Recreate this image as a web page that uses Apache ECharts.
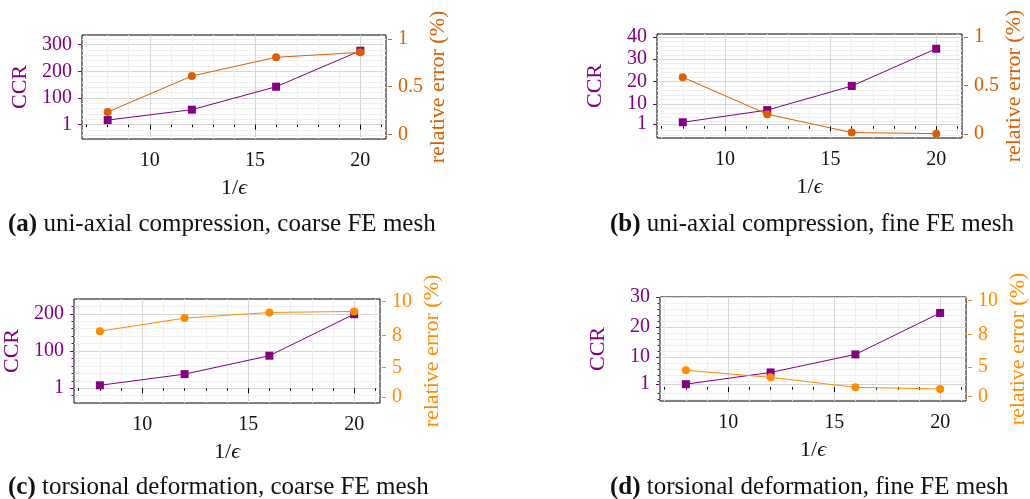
<!DOCTYPE html>
<html><head><meta charset="utf-8">
<script src="https://cdn.jsdelivr.net/npm/echarts@6/dist/echarts.min.js"></script>
<style>html,body{margin:0;padding:0;background:#fff}#c{width:1030px;height:499px}</style>
</head><body><div id="c"></div>
<script>
// ---- data ----
const xVals = [8, 12, 16, 20];
const xMajorTicks = [10, 15, 20];
const xMinorTicks = [7, 8, 9, 11, 12, 13, 14, 16, 17, 18, 19, 21];

const ccrA = [17, 56, 142, 277];
const errA = [0.234, 0.612, 0.808, 0.860];
const ccrB = [1.75, 7.2, 18.0, 34.7];
const errB = [0.585, 0.204, 0.014, 0.003];
const ccrC = [8, 38, 87.5, 199];
const errC = [6.88, 8.25, 8.84, 8.95];
const ccrD = [1.0, 4.9, 10.9, 24.7];
const errD = [2.74, 2.01, 0.97, 0.80];

const leftTicksA = [1, 100, 200, 300];
const leftTicksB = [1, 10, 20, 30, 40];
const leftTicksC = [1, 100, 200];
const leftTicksD = [1, 10, 20, 30];
const leftMinorA = [20, 40, 60, 80, 120, 140, 160, 180, 220, 240, 260, 280, 320, -20, -40];
const leftMinorB = [2, 4, 6, 8, 12, 14, 16, 18, 22, 24, 26, 28, 32, 34, 36, 38, -2, -4];
const leftMinorC = [20, 40, 60, 80, 120, 140, 160, 180, 220, -20];
const leftMinorD = [2, 4, 6, 8, 12, 14, 16, 18, 22, 24, 26, 28, -2, -4];

const rightTicksAB = [0, 0.5, 1];
const rightLabelsAB = ['0', '0.5', '1'];
const rightTicksCD = [0, 3.1, 6.45, 10];
const rightLabelsCD = ['0', '5', '8', '10'];

const captions = [
  ['(a)', 'uni-axial compression, coarse FE mesh'],
  ['(b)', 'uni-axial compression, fine FE mesh'],
  ['(c)', 'torsional deformation, coarse FE mesh'],
  ['(d)', 'torsional deformation, fine FE mesh']
];

// ---- style ----
const FONT = '"Liberation Serif", "DejaVu Serif", serif';
const FS = 20;      // tick labels
const FN = 22;      // axis names
const FC = 25;      // captions
const INK = '#111';
const PURPLE = '#800080';
const ORANGE1 = '#d95f02';
const ORANGE2 = '#ff8c00';
const MAJOR = '#d6d6d6';
const MINOR = '#f0f0f0';
const xMin = 6.78, xMax = 21.22;

const panels = [
  {grid:{left:82, top:35, width:304, height:104}, ccr:ccrA, err:errA, col:ORANGE1,
   lt:leftTicksA, lm:leftMinorA, lmt:false, lmin:-54, lmax:336,
   rt:rightTicksAB, rl:rightLabelsAB, rmin:-0.049, rmax:1.042, cap:[8,224]},
  {grid:{left:657, top:34, width:305, height:104}, ccr:ccrB, err:errB, col:ORANGE1,
   lt:leftTicksB, lm:leftMinorB, lmt:false, lmin:-5.3, lmax:41.3,
   rt:rightTicksAB, rl:rightLabelsAB, rmin:-0.042, rmax:1.031, cap:[610,224]},
  {grid:{left:74, top:299, width:306, height:104}, ccr:ccrC, err:errC, col:ORANGE2,
   lt:leftTicksC, lm:leftMinorC, lmt:true, lmin:-39.5, lmax:239.7,
   rt:rightTicksCD, rl:rightLabelsCD, rmin:-0.63, rmax:10.25, cap:[8,487]},
  {grid:{left:660, top:297, width:307, height:104}, ccr:ccrD, err:errD, col:ORANGE2,
   lt:leftTicksD, lm:leftMinorD, lmt:true, lmin:-4.6, lmax:30,
   rt:rightTicksCD, rl:rightLabelsCD, rmin:-0.45, rmax:10.35, cap:[610,487]}
];

const grid = [], xAxis = [], yAxis = [], series = [], graphic = [];
const txt = (c, fs) => ({fontFamily: FONT, fontSize: fs || FS, color: c});
const lbl = (c, vals, extra) => Object.assign({customValues: vals, margin: 10, hideOverlap: false,
  showMinLabel: true, showMaxLabel: true}, txt(c), extra || {});

panels.forEach((p, i) => {
  grid.push(Object.assign({show:true, borderColor:'#000', borderWidth:1, backgroundColor:'transparent'}, p.grid));
  xAxis.push({gridIndex:i, type:'value', position:'bottom', min:xMin, max:xMax, offset:2,
    axisLine:{show:false}, axisLabel:{show:false},
    axisTick:{show:true, customValues:xMinorTicks, length:2.5, lineStyle:{color:'#000', width:1}},
    splitLine:{show:true, lineStyle:{color:MINOR, width:1}}});
  const xi = xAxis.length;
  xAxis.push({gridIndex:i, type:'value', position:'bottom', min:xMin, max:xMax, offset:2,
    axisLine:{show:false},
    axisTick:{show:true, customValues:xMajorTicks, length:5, lineStyle:{color:'#000', width:1}},
    axisLabel:lbl(INK, xMajorTicks),
    splitLine:{show:true, lineStyle:{color:MAJOR, width:1}},
    name:'1/{i|ϵ}', nameLocation:'middle', nameGap:36,
    nameTextStyle:Object.assign({rich:{i:{fontFamily:FONT, fontSize:FN, fontStyle:'italic', color:INK}}}, txt(INK, FN))});
  yAxis.push({gridIndex:i, type:'value', position:'left', min:p.lmin, max:p.lmax,
    axisLine:{show:false}, axisLabel:{show:false},
    axisTick:{show:p.lmt, customValues:p.lm, length:2.5, lineStyle:{color:PURPLE, width:1}},
    splitLine:{show:true, lineStyle:{color:MINOR, width:1}}});
  const yl = yAxis.length;
  yAxis.push({gridIndex:i, type:'value', position:'left', min:p.lmin, max:p.lmax,
    axisLine:{show:false},
    axisTick:{show:true, customValues:p.lt, length:4, lineStyle:{color:PURPLE, width:1}},
    axisLabel:lbl(PURPLE, p.lt),
    splitLine:{show:true, lineStyle:{color:MAJOR, width:1}},
    name:'CCR', nameLocation:'middle', nameRotate:90, nameGap:51, nameTextStyle:txt(PURPLE, FN)});
  const yr = yAxis.length;
  const rt = p.rt, rl = p.rl;
  yAxis.push({gridIndex:i, type:'value', position:'right', offset:2, min:p.rmin, max:p.rmax,
    axisLine:{show:false},
    axisTick:{show:true, customValues:rt, length:4, lineStyle:{color:p.col, width:1}},
    axisLabel:lbl(p.col, rt, {formatter:(v) => { const k = rt.findIndex(t => Math.abs(t - v) < 1e-6); return k >= 0 ? rl[k] : ''; }}),
    splitLine:{show:false},
    name:'relative error (%)', nameLocation:'middle', nameRotate:90, nameGap:39, nameTextStyle:txt(p.col, FN)});
  series.push({type:'line', xAxisIndex:xi, yAxisIndex:yl, data:xVals.map((x, k) => [x, p.ccr[k]]),
    symbol:'rect', symbolSize:8, showSymbol:true, lineStyle:{color:PURPLE, width:1},
    itemStyle:{color:PURPLE}, z:3, animation:false});
  series.push({type:'line', xAxisIndex:xi, yAxisIndex:yr, data:xVals.map((x, k) => [x, p.err[k]]),
    symbol:'circle', symbolSize:8, showSymbol:true, lineStyle:{color:p.col, width:1},
    itemStyle:{color:p.col}, z:4, animation:false});
  graphic.push({type:'text', left:p.cap[0], top:p.cap[1] - 12,
    style:{text:'{b|' + captions[i][0] + '} ' + captions[i][1], fontFamily:FONT, fontSize:FC, fill:INK,
      rich:{b:{fontFamily:FONT, fontSize:FC, fontWeight:'bold', fill:INK}}}});
});

const chart = echarts.init(document.getElementById('c'), null, {renderer:'canvas'});
chart.setOption({animation:false, backgroundColor:'#fff', textStyle:{fontFamily:FONT},
  grid, xAxis, yAxis, series, graphic});
</script>
</body></html>
